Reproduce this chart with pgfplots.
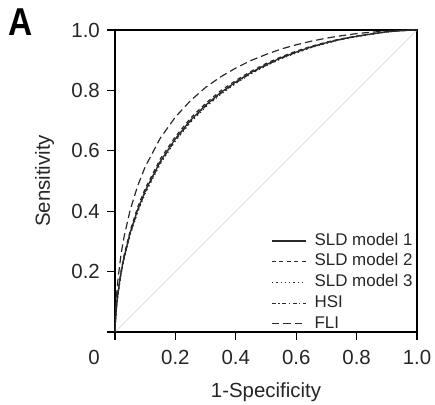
\documentclass[border=0pt]{standalone}
\usepackage{fontspec}
\setmainfont{Liberation Sans}
\usepackage{pgfplots}
\pgfplotsset{compat=1.18}
\definecolor{curve}{HTML}{2a2a2a}
\begin{document}
\begin{tikzpicture}
\begin{axis}[
 at={(0,0)}, anchor=south west,
 width=302bp, height=302bp, scale only axis,
 xmin=0, xmax=1, ymin=0, ymax=1,
 axis line style={line width=1.3bp, black},
 xtick={0,0.2,0.4,0.6,0.8,1}, ytick={0,0.2,0.4,0.6,0.8,1},
 xticklabels={,0.2,0.4,0.6,0.8,1.0}, yticklabels={,0.2,0.4,0.6,0.8,1.0},
 tick align=outside, major tick length=8bp,
 tick style={line width=1.2bp, black},
 tick pos=left,
 /pgf/number format/assume math mode=true,
 ticklabel style={font=\fontsize{20.5}{24}\selectfont, inner sep=0pt, text=black!85},
 xticklabel style={anchor=north, yshift=-10bp},
 yticklabel style={anchor=east, xshift=-7bp},
 label style={font=\fontsize{20.5}{24}\selectfont, inner sep=0pt, text=black!85},
 xlabel={1-Specificity},
 xlabel style={at={(axis description cs:0.5,-0.1656)}, anchor=north},
 ylabel={Sensitivity},
 ylabel style={at={(axis description cs:-0.265,0.5)}, anchor=north},
 legend style={draw=none, fill=none, at={(axis description cs:0.507,0.336)}, anchor=north west,
   row sep=4bp, column sep=8bp,
   nodes={inner sep=0pt, text height=12.5bp, text depth=4.2bp, font=\fontsize{17}{20}\selectfont, text=black!85}},
 legend cell align=left,
 legend image code/.code={\draw[#1] (0bp,0bp) -- (34bp,0bp);},
 clip=true,
]
\addplot[gray!25, line width=1bp, forget plot] coordinates {(0,0) (1,1)};
% SLD model 1
\addplot[curve, line width=1.3bp, solid] coordinates {
(0,0) (0.001,0.029) (0.005,0.084) (0.01,0.130) (0.02,0.197) (0.03,0.248) (0.05,0.328) (0.075,0.405) (0.1,0.467) (0.15,0.565) (0.2,0.640) (0.25,0.701) (0.3,0.751) (0.35,0.793) (0.4,0.828) (0.45,0.859) (0.5,0.885) (0.55,0.908) (0.6,0.927) (0.65,0.944) (0.7,0.958) (0.75,0.970) (0.8,0.979) (0.85,0.987) (0.9,0.994) (0.95,0.998) (0.98,0.9994) (1,1)};
\addlegendentry{SLD model 1}
% SLD model 2
\addplot[curve, line width=1.2bp, dash pattern=on 4bp off 3.5bp] coordinates {
(0,0) (0.001,0.030) (0.005,0.087) (0.01,0.134) (0.02,0.202) (0.03,0.254) (0.05,0.335) (0.075,0.413) (0.1,0.475) (0.15,0.573) (0.2,0.647) (0.25,0.708) (0.3,0.757) (0.35,0.799) (0.4,0.833) (0.45,0.863) (0.5,0.889) (0.55,0.911) (0.6,0.930) (0.65,0.946) (0.7,0.960) (0.75,0.971) (0.8,0.980) (0.85,0.988) (0.9,0.994) (0.95,0.998) (0.98,0.9994) (1,1)};
\addlegendentry{SLD model 2}
% SLD model 3
\addplot[curve, line width=1.2bp, dash pattern=on 1.3bp off 3bp] coordinates {
(0,0) (0.001,0.028) (0.005,0.081) (0.01,0.126) (0.02,0.191) (0.03,0.242) (0.05,0.321) (0.075,0.397) (0.1,0.459) (0.15,0.557) (0.2,0.633) (0.25,0.694) (0.3,0.745) (0.35,0.787) (0.4,0.823) (0.45,0.855) (0.5,0.881) (0.55,0.905) (0.6,0.924) (0.65,0.942) (0.7,0.956) (0.75,0.969) (0.8,0.978) (0.85,0.986) (0.9,0.994) (0.95,0.998) (0.98,0.9994) (1,1)};
\addlegendentry{SLD model 3}
% HSI
\addplot[curve, line width=1.2bp, dash pattern=on 4bp off 2.5bp on 1.3bp off 2.5bp] coordinates {
(0,0) (0.001,0.028) (0.005,0.082) (0.01,0.128) (0.02,0.194) (0.03,0.245) (0.05,0.324) (0.075,0.401) (0.1,0.463) (0.15,0.561) (0.2,0.636) (0.25,0.698) (0.3,0.748) (0.35,0.790) (0.4,0.825) (0.45,0.857) (0.5,0.883) (0.55,0.906) (0.6,0.926) (0.65,0.943) (0.7,0.957) (0.75,0.969) (0.8,0.979) (0.85,0.987) (0.9,0.994) (0.95,0.998) (0.98,0.9994) (1,1)};
\addlegendentry{HSI}
% FLI
\addplot[curve, line width=1.2bp, dash pattern=on 7.5bp off 4bp] coordinates {
(0,0) (0.001,0.0455) (0.005,0.120) (0.01,0.177) (0.02,0.257) (0.03,0.315) (0.05,0.403) (0.075,0.484) (0.1,0.547) (0.15,0.642) (0.2,0.712) (0.25,0.766) (0.3,0.810) (0.35,0.845) (0.4,0.874) (0.45,0.899) (0.5,0.919) (0.55,0.937) (0.6,0.951) (0.65,0.963) (0.7,0.973) (0.75,0.981) (0.8,0.988) (0.85,0.993) (0.9,0.996) (0.95,0.999) (0.98,0.9997) (1,1)};
\addlegendentry{FLI}
\end{axis}
\node[anchor=north east, inner sep=0pt, font=\fontsize{20.5}{24}\selectfont, text=black!85] at (-15bp,-18bp) {0};
\node[anchor=north west, inner sep=0pt, font=\fontsize{39}{44}\selectfont\bfseries, xscale=0.86] at (-106.7bp,323.7bp) {A};
\pgfresetboundingbox
\path[use as bounding box] (-115bp,-73bp) rectangle (320bp,332bp);
\end{tikzpicture}
\end{document}
